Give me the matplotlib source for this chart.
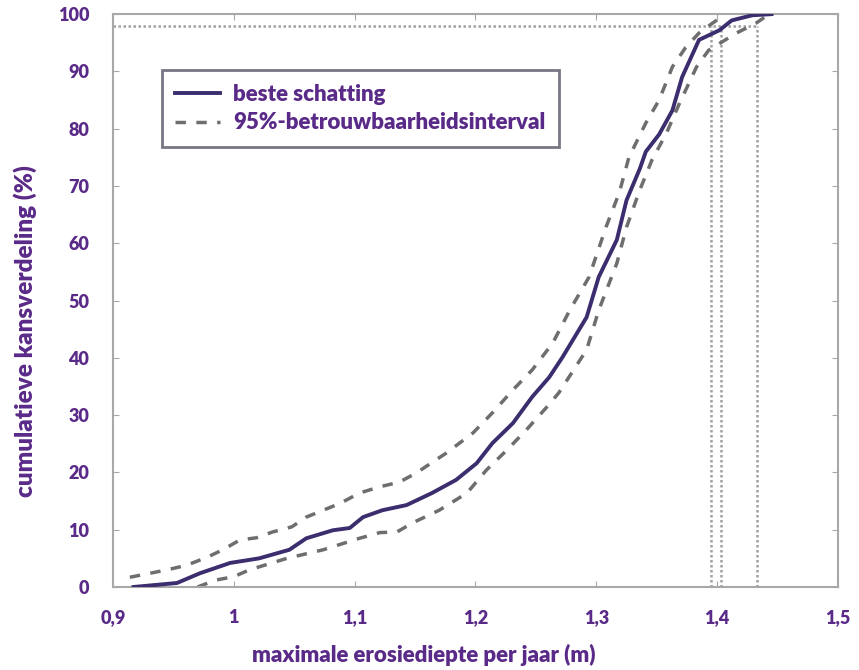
from matplotlib import pyplot as plt

plt.rcParams['font.family'] = ['Lato', 'DejaVu Sans']
plt.rcParams['font.weight'] = 'heavy'

PAARS = '#5a2a88'

# beste schatting (doorgetrokken lijn)
best_x = [0.917, 0.953, 0.972, 0.997, 1.021, 1.046, 1.060, 1.082, 1.096, 1.107,
          1.123, 1.143, 1.164, 1.184, 1.201, 1.214, 1.231, 1.247, 1.261, 1.272,
          1.292, 1.302, 1.317, 1.325, 1.336, 1.341, 1.352, 1.363, 1.371, 1.385,
          1.402, 1.412, 1.429, 1.445]
best_y = [0, 0.7, 2.4, 4.2, 5.0, 6.5, 8.5, 9.9, 10.3, 12.2,
          13.4, 14.3, 16.4, 18.7, 21.6, 25.1, 28.6, 33.2, 36.6, 40.1,
          47.1, 54.1, 60.6, 67.5, 73.0, 76.0, 79.0, 83.2, 89.0, 95.5,
          97.2, 98.9, 99.8, 100]

# bovengrens 95%-interval
upper_x = [0.914, 0.945, 0.961, 0.978, 0.991, 1.005, 1.019, 1.032, 1.048, 1.060,
           1.088, 1.104, 1.121, 1.137, 1.151, 1.176, 1.198, 1.214, 1.231, 1.247,
           1.264, 1.278, 1.294, 1.308, 1.319, 1.327, 1.341, 1.352, 1.363, 1.374,
           1.385, 1.396, 1.407]
upper_y = [1.7, 3.0, 3.8, 5.2, 6.5, 8.2, 8.6, 9.6, 10.5, 12.2,
           14.6, 16.4, 17.5, 18.3, 19.9, 23.4, 26.9, 30.4, 34.4, 37.9,
           42.6, 48.3, 54.1, 62.8, 68.8, 75.0, 81.0, 85.0, 90.8, 94.2,
           96.7, 98.4, 100]

# ondergrens 95%-interval
lower_x = [0.970, 0.985, 1.000, 1.013, 1.044, 1.074, 1.104, 1.121, 1.135, 1.148,
           1.170, 1.193, 1.209, 1.226, 1.242, 1.259, 1.269, 1.292, 1.302, 1.317,
           1.325, 1.336, 1.346, 1.358, 1.369, 1.383, 1.393, 1.416, 1.432, 1.443]
lower_y = [0, 1.2, 1.8, 3.0, 5.0, 6.5, 8.5, 9.5, 9.6, 11.2,
           13.4, 16.4, 20.4, 23.9, 27.4, 31.4, 33.9, 41.4, 48.3, 56.5,
           62.8, 69.3, 74.5, 79.2, 84.5, 90.8, 93.7, 96.7, 98.4, 100]

# hulplijnen bij 98%
grens_y = 98
grens_x = [1.395, 1.403, 1.433]

x_ticks = [0.9, 1.0, 1.1, 1.2, 1.3, 1.4, 1.5]
x_labels = ['0,9', '1', '1,1', '1,2', '1,3', '1,4', '1,5']
y_ticks = [0, 10, 20, 30, 40, 50, 60, 70, 80, 90, 100]

fig = plt.figure(figsize=(8.59, 6.70), dpi=100)
ax = fig.add_axes([0.1315, 0.1239, 0.844, 0.855])

# dotted hulplijnen
ax.plot([0.9, max(grens_x)], [grens_y, grens_y], color='#a0a0a0', lw=1.8,
        linestyle=(0, (1, 1)), zorder=1)
for gx in grens_x:
    ax.plot([gx, gx], [0, grens_y], color='#a0a0a0', lw=1.8,
            linestyle=(0, (1, 1)), zorder=1)

ax.plot(upper_x, upper_y, color='#6e6e6e', lw=2.5, linestyle=(0, (3, 3)),
        label='95%-betrouwbaarheidsinterval', zorder=2)
ax.plot(lower_x, lower_y, color='#6e6e6e', lw=2.5, linestyle=(0, (3, 3)), zorder=2)
ax.plot(best_x, best_y, color='#3b2d6e', lw=2.8, label='beste schatting', zorder=3)

ax.set_xlim(0.9, 1.5)
ax.set_ylim(0, 100)
ax.set_xticks(x_ticks)
ax.set_xticklabels(x_labels)
ax.set_yticks(y_ticks)

for s in ax.spines.values():
    s.set_color('#a8a8a8')
    s.set_linewidth(1.5)
ax.tick_params(direction='in', length=4, color='#a8a8a8', top=True, right=True,
               labelsize=13, labelcolor=PAARS)
ax.tick_params(axis='x', pad=16)
ax.tick_params(axis='y', pad=17)

ax.set_xlabel('maximale erosiediepte per jaar (m)', fontsize=16, color=PAARS,
              fontweight='heavy', va='center')
ax.xaxis.set_label_coords(0.428, -0.119)
ax.set_ylabel('cumulatieve kansverdeling (%)', fontsize=17.5, color=PAARS,
              fontweight='heavy', va='center')
ax.yaxis.set_label_coords(-0.121, 0.447)

handles, labels = ax.get_legend_handles_labels()
leg = ax.legend(handles[::-1], labels[::-1], loc='upper left',
                bbox_to_anchor=(0.0676, 0.902, 0.547, 0.0), mode='expand',
                borderaxespad=0, fontsize=16, frameon=True, fancybox=False,
                handlelength=2.0, borderpad=0.6, labelspacing=0.35,
                handletextpad=0.6)
leg.get_frame().set_edgecolor('#555566')
leg.get_frame().set_linewidth(2)
for t in leg.get_texts():
    t.set_color(PAARS)
    t.set_fontweight('heavy')

fig.savefig('out.png', dpi=100)
